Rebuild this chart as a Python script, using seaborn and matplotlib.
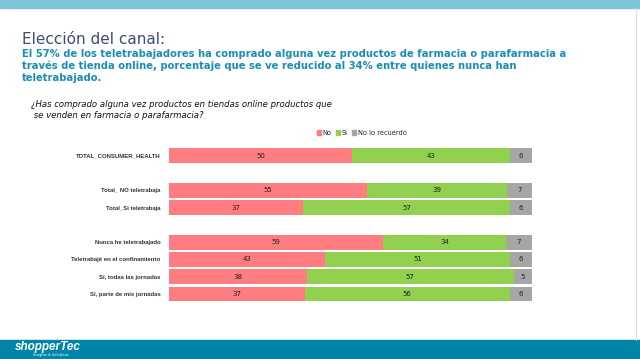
import pandas as pd
import matplotlib.pyplot as plt
import seaborn as sns
from matplotlib.patches import Rectangle

groups = ["TOTAL_CONSUMER_HEALTH", "Total_ NO teletrabaja", "Total_Si teletrabaja",
          "Nunca he teletrabajado", "Teletrabajé en el confinamiento",
          "Sí, todas las jornadas", "Sí, parte de mis jornadas"]
no_vals = [50, 55, 37, 59, 43, 38, 37]
si_vals = [43, 39, 57, 34, 51, 57, 56]
nr_vals = [6, 7, 6, 7, 6, 5, 6]
series = ["No", "Sí", "No lo recuerdo"]
colors = ["#FF7C80", "#92D050", "#A6A6A6"]

# blank slots give the gaps between blocks
order = [groups[0], " ", groups[1], groups[2], "  ", groups[3], groups[4], groups[5], groups[6]]

df = pd.DataFrame({"grupo": groups, "No": no_vals, "Sí": si_vals, "No lo recuerdo": nr_vals})
tot = df[series].sum(axis=1)
df["c1"] = df["No"] / tot * 100
df["c2"] = (df["No"] + df["Sí"]) / tot * 100
df["c3"] = 100.0

sns.set_theme(style="white")
plt.rcParams["font.family"] = ["DejaVu Sans"]
narrow = ["Liberation Sans Narrow", "Liberation Sans", "DejaVu Sans"]

fig = plt.figure(figsize=(6.4, 3.59), dpi=100)
ax = fig.add_axes([0.264, 0.157, 0.567, 0.433])

for col, c in zip(["c3", "c2", "c1"], colors[::-1]):
    sns.barplot(data=df, y="grupo", x=col, order=order, color=c, width=0.85,
                saturation=1, ax=ax, orient="h", linewidth=0)

ypos = {g: order.index(g) for g in groups}
for _, r in df.iterrows():
    y = ypos[r["grupo"]]
    starts = [0, r["c1"], r["c2"]]
    ends = [r["c1"], r["c2"], r["c3"]]
    for s, e, v in zip(starts, ends, [r["No"], r["Sí"], r["No lo recuerdo"]]):
        ax.text((s + e) / 2, y, str(int(v)), ha="center", va="center", fontsize=5, color="#222222")

ax.set_xlim(0, 100)
ax.set_xlabel("")
ax.set_ylabel("")
ax.set_xticks([])
ax.tick_params(axis="y", length=0, pad=6)
for t in ax.get_yticklabels():
    t.set_fontweight("bold")
    t.set_color("#333333")
    t.set_fontsize(4.3)
    t.set_family(narrow)
sns.despine(ax=ax, left=True, bottom=True)

# legend
handles = [Rectangle((0, 0), 1, 1, color=c) for c in colors]
fig.legend(handles, series, loc="center", bbox_to_anchor=(0.565, 0.63), ncol=3, frameon=False,
           fontsize=4.8, handlelength=0.6, handleheight=0.6, handletextpad=0.3, columnspacing=0.6)

# slide decorations
fig.patches.append(Rectangle((0, 1 - 8 / 359), 1, 8 / 359, transform=fig.transFigure,
                             color="#7FC3D7", zorder=0))
fig.patches.append(Rectangle((0, 0), 1, 19 / 359, transform=fig.transFigure,
                             color="#0085A9", zorder=0))
fig.add_artist(plt.Line2D([636 / 640, 636 / 640], [19 / 359, 1 - 8 / 359],
                          transform=fig.transFigure, color="#DDDDDD", lw=0.8))

fig.text(22 / 640, 1 - 40 / 359, "Elección del canal:", fontsize=11, color="#3B4E6B",
         va="center", ha="left")
fig.text(22 / 640, 1 - 66 / 359,
         "El 57% de los teletrabajadores ha comprado alguna vez productos de farmacia o parafarmacia a\n"
         "través de tienda online, porcentaje que se ve reducido al 34% entre quienes nunca han\n"
         "teletrabajado.",
         fontsize=7.2, color="#1B8DB3", fontweight="bold", va="center", ha="left", linespacing=1.25)
fig.text(31 / 640, 1 - 110 / 359,
         "¿Has comprado alguna vez productos en tiendas online productos que\n"
         " se venden en farmacia o parafarmacia?",
         fontsize=6.1, style="italic", color="#111111", va="center", ha="left", linespacing=1.15)

fig.text(15 / 640, 1 - 347 / 359, "shopperTec", fontsize=8.5, color="white", fontweight="bold",
         style="italic", va="center", ha="left", family=narrow)
fig.text(33 / 640, 1 - 355 / 359, "Insights & Solutions", fontsize=2.5, color="white",
         va="center", ha="left")

plt.savefig("out.png", dpi=100)
plt.close()
